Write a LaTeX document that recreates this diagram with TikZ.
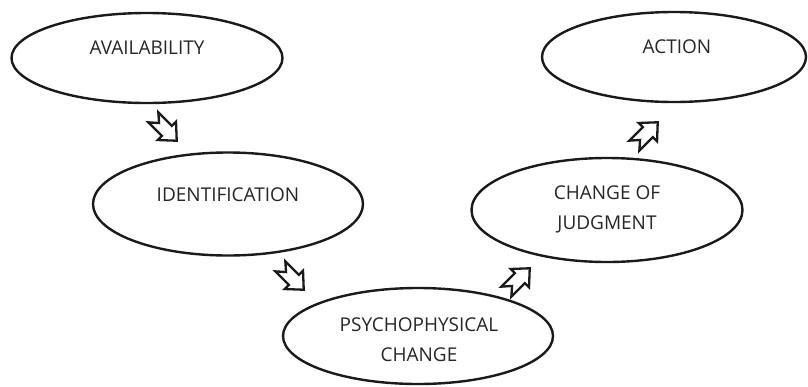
\documentclass[tikz,border=0pt]{standalone}
\usepackage{fontspec}
\setmainfont{Open Sans}
\usetikzlibrary{shapes.geometric,calc}
\definecolor{txtgray}{HTML}{262626}
\definecolor{linecol}{HTML}{1A1A1A}
\tikzset{
  oval/.style={ellipse, draw=linecol, line width=2.4pt, inner sep=0pt},
  lbl/.style={text=txtgray, align=center, inner sep=0pt, font=\fontsize{19}{30}\selectfont},
  arrowline/.style={draw=linecol, line width=2.3pt, fill=white, line join=miter},
  notcharrow/.pic={
    \path[arrowline] (-15,-7) -- (4,-7) -- (4,-13) -- (18,0) -- (4,13) -- (4,7) -- (-15,7) -- (-7,0) -- cycle;
  }
}
\begin{document}
\begin{tikzpicture}[x=1pt,y=-1pt]
\useasboundingbox (0,0) rectangle (808,386);
% ellipses
\node[oval, minimum width=271pt, minimum height=90pt] (avail) at (147,58) {};
\node[oval, minimum width=270pt, minimum height=103pt] (ident) at (228,204) {};
\node[oval, minimum width=270pt, minimum height=96pt] (psych) at (418,336) {};
\node[oval, minimum width=271pt, minimum height=104pt] (judg) at (607,210) {};
\node[oval, minimum width=264pt, minimum height=90pt] (act) at (674,57) {};
% texts
\node[lbl] (tavail) at ($(avail.center)+(0,-10)$) {AVAILABILITY};
\node[lbl] (tident) at ($(ident.center)+(0,-9)$) {IDENTIFICATION};
\node[lbl] (tpsych) at ($(psych.center)+(1,4)$) {PSYCHOPHYSICAL\\CHANGE};
\node[lbl] (tjudg) at ($(judg.center)+(0,-1)$) {CHANGE OF\\JUDGMENT};
\node[lbl] (tact) at ($(act.center)+(3,-10)$) {ACTION};
% block arrows
\coordinate (a1) at (164,128);
\coordinate (a2) at (291,277);
\coordinate (a3) at (517,281);
\coordinate (a4) at (645,135);
\pic[rotate=-45] at (a1) {notcharrow};
\pic[rotate=-45] at (a2) {notcharrow};
\pic[rotate=45] at (a3) {notcharrow};
\pic[rotate=45] at (a4) {notcharrow};
\end{tikzpicture}
\end{document}
